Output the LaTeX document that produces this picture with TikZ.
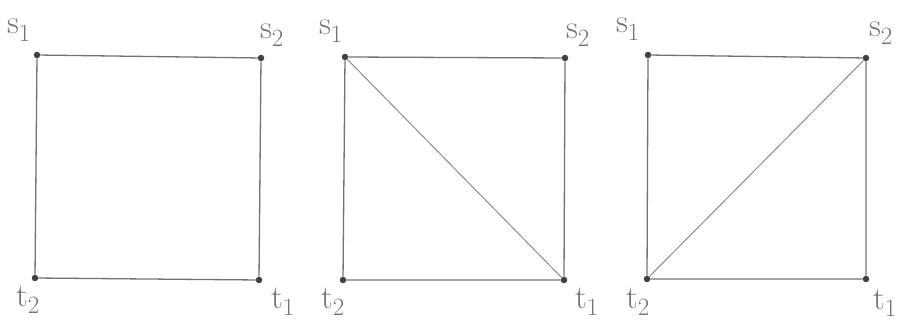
\documentclass[tikz,border=0pt]{standalone}
\usepackage{fontspec}
\begin{document}
\begin{tikzpicture}[x=1pt,y=-1pt,
  vtx/.style={circle,fill=black!75,inner sep=0pt,minimum size=6.5pt},
  edge/.style={draw=black!55,line width=1.3pt},
  diag/.style={draw=black!45,line width=1pt},
  lbl/.style={text=black!55,inner sep=0pt,font=\fontsize{33}{33}\selectfont}]
\useasboundingbox (0,0) rectangle (902,320);
% square 1
\node[vtx] (as1) at (37,55) {};
\node[vtx] (as2) at (261,58) {};
\node[vtx] (at2) at (35,278) {};
\node[vtx] (at1) at (259,280) {};
\draw[edge] (as1) -- (as2) -- (at1) -- (at2) -- (as1);
\node[lbl] (las1) at (19,30) {$\mathrm{s}_1$};
\node[lbl] (las2) at (272,35) {$\mathrm{s}_2$};
\node[lbl] (lat2) at (28,300) {$\mathrm{t}_2$};
\node[lbl] (lat1) at (283,302) {$\mathrm{t}_1$};
% square 2
\node[vtx] (bs1) at (345,57) {};
\node[vtx] (bs2) at (565,58) {};
\node[vtx] (bt2) at (343,280) {};
\node[vtx] (bt1) at (564,280) {};
\draw[edge] (bs1) -- (bs2) -- (bt1) -- (bt2) -- (bs1);
\draw[diag] (bs1) -- (bt1);
\node[lbl] (lbs1) at (331,31) {$\mathrm{s}_1$};
\node[lbl] (lbs2) at (578,35) {$\mathrm{s}_2$};
\node[lbl] (lbt2) at (333,302) {$\mathrm{t}_2$};
\node[lbl] (lbt1) at (587,302) {$\mathrm{t}_1$};
% square 3
\node[vtx] (cs1) at (648,55) {};
\node[vtx] (cs2) at (866,58) {};
\node[vtx] (ct2) at (647,279) {};
\node[vtx] (ct1) at (866,279) {};
\draw[edge] (cs1) -- (cs2) -- (ct1) -- (ct2) -- (cs1);
\draw[diag] (cs2) -- (ct2);
\node[lbl] (lcs1) at (628,29) {$\mathrm{s}_1$};
\node[lbl] (lcs2) at (881,33) {$\mathrm{s}_2$};
\node[lbl] (lct2) at (638,302) {$\mathrm{t}_2$};
\node[lbl] (lct1) at (885,303) {$\mathrm{t}_1$};
\end{tikzpicture}
\end{document}
